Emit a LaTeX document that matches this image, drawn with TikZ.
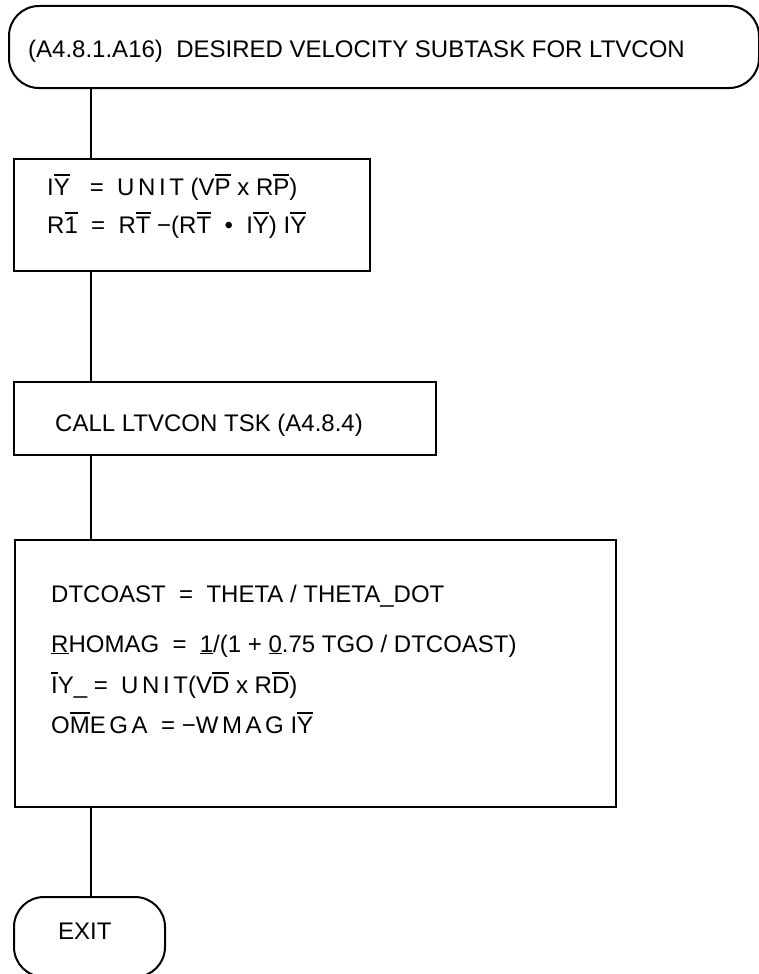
\documentclass[tikz,border=0pt]{standalone}
\usepackage{fontspec}
\setmainfont{Liberation Sans}
\usetikzlibrary{positioning}
% vector bar over a letter, and the stray marks under a letter
\newcommand{\ovr}[1]{\vbox{\hrule height 1.8pt\kern 2.2pt\hbox{#1}}}
\newcommand{\und}[1]{\vtop{\hbox{#1}\kern 0.8pt\hrule height 1.4pt}}
\newcommand{\spc}[1]{{\addfontfeature{LetterSpace=15}#1}}

\begin{document}
\begin{tikzpicture}[
  x=1pt,y=-1pt,
  font=\fontsize{24}{29}\selectfont,
  every node/.style={inner sep=0pt},
  term/.style={draw,line width=2pt,rounded corners=30pt,anchor=north west},
  stepbox/.style={draw,line width=1.8pt,anchor=north west},
  txt/.style={anchor=base west},
  link/.style={line width=1.6pt}
]
  \useasboundingbox (0,0) rectangle (759,974);
  \clip (0,0) rectangle (759,974);
  \coordinate (spine) at (91,0);

  % entry
  \node[term,minimum width=750pt,minimum height=82pt] (start) at (8,5) {};
  \node[txt] (starttxt) at (28,58) {(A4.8.1.A16)~~DESIRED VELOCITY SUBTASK FOR LTVCON};

  % unit vector and target
  \node[stepbox,minimum width=356pt,minimum height=112pt] (unitbox) at (13,158) {};
  \node[txt] (unitl1) at (47,195) {I\ovr{Y}~~~=~~\spc{UNIT} (V\ovr{P} x R\ovr{P})};
  \node[txt] (unitl2) at (47,233) {R\ovr{1}~~=~~R\ovr{T} −(R\ovr{T} ~•~~I\ovr{Y}) I\ovr{Y}};

  % call
  \node[stepbox,minimum width=422pt,minimum height=73pt] (callbox) at (13,381) {};
  \node[txt] (calltxt) at (55,431) {CALL LTVCON TSK (A4.8.4)};

  % coast
  \node[stepbox,minimum width=601pt,minimum height=267pt] (coastbox) at (14,539) {};
  \node[txt] (coastl1) at (51,602) {DTCOAST~~=~~THETA / THETA\_DOT};
  \node[txt] (coastl2) at (51,652) {\und{R}HOMAG~~=~~\und{1}/(1 + \und{0}.75 TGO / DTCOAST)};
  \node[txt] (coastl3) at (51,693) {\ovr{I}Y\_~=~~\spc{UNIT}(V\ovr{D} x R\ovr{D})};
  \node[txt] (coastl4) at (51,733) {\spc{O\ovr{M}EGA}~~=~−\spc{WMAG} I\ovr{Y}};

  % exit
  \node[term,minimum width=151pt,minimum height=80pt] (exit) at (13,896) {};
  \node[txt] (exittxt) at (58,939) {EXIT};

  \draw[link] (spine |- start.south) -- (spine |- unitbox.north);
  \draw[link] (spine |- unitbox.south) -- (spine |- callbox.north);
  \draw[link] (spine |- callbox.south) -- (spine |- coastbox.north);
  \draw[link] (spine |- coastbox.south) -- (spine |- exit.north);
\end{tikzpicture}
\end{document}
